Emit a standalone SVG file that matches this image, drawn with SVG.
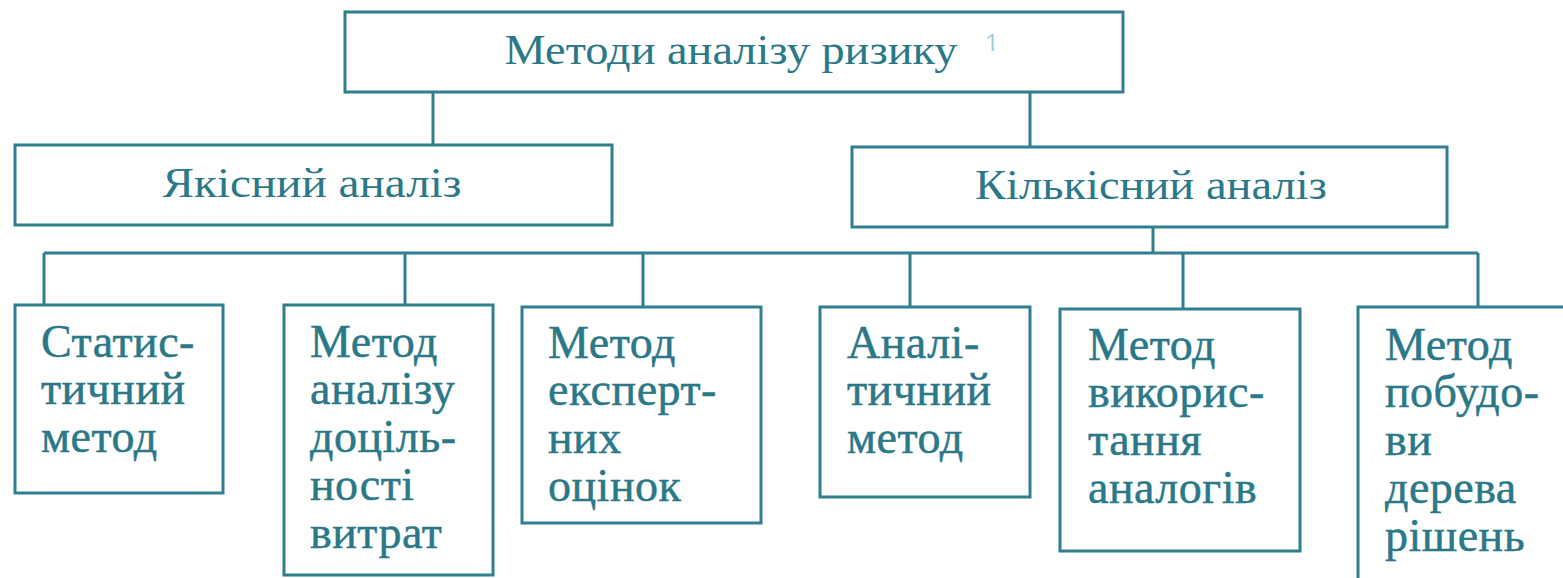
<svg xmlns="http://www.w3.org/2000/svg" width="1563" height="578" viewBox="0 0 1563 578">
<style>
.box{fill:#fff;stroke:#2f7f90;stroke-width:3}
.ln{stroke:#2f7f90;stroke-width:3;fill:none}
.t{font-family:"Liberation Serif","Times New Roman",serif;fill:#2a7888}
.h{font-size:42px;text-anchor:middle}
.m{font-size:46px;letter-spacing:0.5px;stroke:#2a7888;stroke-width:0.5}
.n{font-family:"Open Sans","Liberation Sans",sans-serif;font-size:24px;fill:#9ccbe0}
</style>
<rect width="1563" height="578" fill="#fff"/>
<g id="connectors">
<path class="ln" d="M433 92V145M1030 92V147M1153 227V253M44 253H1478M44 253V305M405 253V305M643 253V307M910 253V307M1183 253V309M1478 253V307"/>
</g>
<g id="root">
<rect class="box" x="345" y="12" width="778" height="80"/>
<text class="t h" x="731" y="64" textLength="453" lengthAdjust="spacingAndGlyphs">Методи аналізу ризику</text>
<text class="n" x="985" y="51">1</text>
</g>
<g id="qual">
<rect class="box" x="15" y="145" width="597" height="80"/>
<text class="t h" x="312" y="197" textLength="299" lengthAdjust="spacingAndGlyphs">Якісний аналіз</text>
</g>
<g id="quant">
<rect class="box" x="852" y="147" width="595" height="80"/>
<text class="t h" x="1151" y="199" textLength="352" lengthAdjust="spacingAndGlyphs">Кількісний аналіз</text>
</g>
<g id="n1">
<rect class="box" x="15" y="305" width="208" height="188"/>
<text class="t m" x="41" y="357"><tspan x="41">Статис-</tspan><tspan x="41" dy="47">тичний</tspan><tspan x="41" dy="48">метод</tspan></text>
</g>
<g id="n2">
<rect class="box" x="284" y="305" width="209" height="270"/>
<text class="t m" x="310" y="357"><tspan x="310">Метод</tspan><tspan x="310" dy="47">аналізу</tspan><tspan x="310" dy="48">доціль-</tspan><tspan x="310" dy="48">ності</tspan><tspan x="310" dy="48">витрат</tspan></text>
</g>
<g id="n3">
<rect class="box" x="522" y="307" width="239" height="216"/>
<text class="t m" x="548" y="358"><tspan x="548">Метод</tspan><tspan x="548" dy="47">експерт-</tspan><tspan x="548" dy="48">них</tspan><tspan x="548" dy="48">оцінок</tspan></text>
</g>
<g id="n4">
<rect class="box" x="820" y="307" width="210" height="190"/>
<text class="t m" x="847" y="358"><tspan x="847">Аналі-</tspan><tspan x="847" dy="47">тичний</tspan><tspan x="847" dy="48">метод</tspan></text>
</g>
<g id="n5">
<rect class="box" x="1060" y="309" width="240" height="242"/>
<text class="t m" x="1088" y="360"><tspan x="1088">Метод</tspan><tspan x="1088" dy="47">викорис-</tspan><tspan x="1088" dy="48">тання</tspan><tspan x="1088" dy="48">аналогів</tspan></text>
</g>
<g id="n6">
<rect class="box" x="1358" y="307" width="210" height="275"/>
<text class="t m" x="1385" y="360"><tspan x="1385">Метод</tspan><tspan x="1385" dy="47">побудо-</tspan><tspan x="1385" dy="48">ви</tspan><tspan x="1385" dy="48">дерева</tspan><tspan x="1385" dy="48">рішень</tspan></text>
</g>
</svg>
